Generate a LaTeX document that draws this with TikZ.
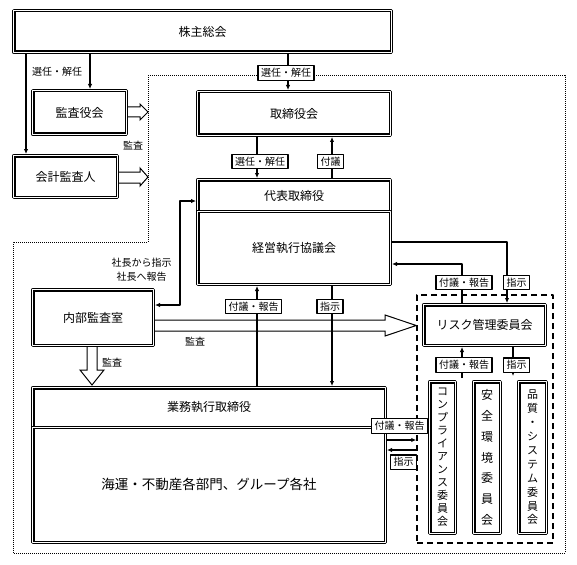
\documentclass[tikz,border=0pt]{standalone}
\usepackage{fontspec}
\setmainfont{Noto Sans CJK JP}
\usepackage{tikz}
\usetikzlibrary{arrows.meta}
\usetikzlibrary{positioning}

\tikzset{
  dbox/.style={draw, double, line width=1.1pt, double distance=1.3pt, outer sep=1.75pt, inner sep=0pt, font=\fontsize{12}{14}\selectfont},
  lbl/.style={draw, line width=1.2pt, fill=white, inner xsep=3pt, inner ysep=2.5pt, font=\fontsize{10}{12}\selectfont},
  txt/.style={inner sep=0pt, font=\fontsize{10}{12}\selectfont},
  arr/.style={line width=1.1pt, -{Latex[length=5pt, width=4.5pt]}},
  arrb/.style={line width=1.1pt, {Latex[length=5pt, width=4.5pt]}-{Latex[length=5pt, width=4.5pt]}},
  hollow/.style={draw, line width=1pt, fill=white, line join=miter},
  dotline/.style={line width=1pt, dash pattern=on 1pt off 1pt},
  dashbox/.style={draw, line width=1.5pt, dash pattern=on 6pt off 4pt}
}

\begin{document}
\begin{tikzpicture}[line cap=butt,line join=round,x=1pt,y=-1pt]
\useasboundingbox (0,0) rectangle (577,564);
% grenze
\draw[dotline] (148,76) -- (565,76) -- (565,553) -- (13,553) -- (13,242) -- (148,242) -- cycle;

% boxes
\node[dbox, minimum width=377.5pt, minimum height=41.5pt] (gm) at (202.5,31.5) {株主総会};
\node[dbox, minimum width=93.5pt, minimum height=43.5pt] (kansa) at (79.5,112.5) {監査役会};
\node[dbox, minimum width=103.5pt, minimum height=41.5pt] (kaikei) at (65.5,176.5) {会計監査人};
\node[dbox, minimum width=192.5pt, minimum height=43.5pt] (board) at (294,113.5) {取締役会};
\node[dbox, minimum width=192.5pt, minimum height=31.5pt] (ceo) at (294,195.5) {代表取締役};
\node[dbox, minimum width=192.5pt, minimum height=73pt] (exec) at (294,247.75) {経営執行協議会};
\node[dbox, minimum width=120.5pt, minimum height=55.5pt] (naibu) at (93,317.5) {内部監査室};
\node[dbox, minimum width=352.5pt, minimum height=39.5pt] (gyomu) at (209,407.5) {業務執行取締役};
\node[dbox, minimum width=352.5pt, minimum height=115pt, font=\fontsize{13.5}{15}\selectfont] (kaiun) at (209,484.75) {海運・不動産各部門、グループ各社};
\node[dashbox, minimum width=136pt, minimum height=248pt] (cmte) at (485,419) {};
\node[dbox, minimum width=121.5pt, minimum height=40.5pt] (risk) at (484.5,325) {リスク管理委員会};
\node[dbox, minimum width=25.5pt, minimum height=151.5pt, align=center, font=\fontsize{11}{13}\selectfont] (comp) at (442.5,457.5) {コ\\ン\\プ\\ラ\\イ\\ア\\ン\\ス\\委\\員\\会};
\node[dbox, minimum width=26.5pt, minimum height=151.5pt, align=center, font=\fontsize{12}{20.8}\selectfont] (safe) at (487,457.5) {安\\全\\環\\境\\委\\員\\会};
\node[dbox, minimum width=27.5pt, minimum height=151.5pt, align=center, font=\fontsize{11}{13.9}\selectfont] (qual) at (532.5,457.5) {品\\質\\・\\シ\\ス\\テ\\ム\\委\\員\\会};

% hohle pfeile
\draw[hollow] (kansa.east |- 0,107) -- (140,107) -- (140,104) -- (148,112) -- (140,120) -- (140,117) -- (kansa.east |- 0,117);
\draw[hollow] (kaikei.east |- 0,172) -- (140,172) -- (140,168) -- (148,177) -- (140,186) -- (140,183) -- (kaikei.east |- 0,183);
\draw[hollow] (87,0 |- naibu.south) -- (87,370) -- (80,370) -- (92,385) -- (104,370) -- (97,370) -- (97,0 |- naibu.south);
\draw[hollow] (naibu.east |- 0,320) -- (385,320) -- (385,315) -- (cmte.west |- 0,325.5) -- (385,336) -- (385,331) -- (naibu.east |- 0,331);

% verbindungen
\draw[arr] (26,0 |- gm.south) -- (26,0 |- kaikei.north);
\draw[arr] (90,0 |- gm.south) -- (90,0 |- kansa.north);
\draw[arr] (288,0 |- gm.south) -- (288,0 |- board.north);
\draw[arr] (257,0 |- board.south) -- (257,0 |- ceo.north);
\draw[arr] (332,0 |- ceo.north) -- (332,0 |- board.south);
\draw[arrb] (naibu.east |- 0,305) -- (180,305) -- (180,201) -- (ceo.west |- 0,201);
\draw[arr] (257,0 |- gyomu.north) -- (257,0 |- exec.south);
\draw[arr] (332,0 |- exec.south) -- (332,0 |- gyomu.north);
\draw[arr] (exec.east |- 0,242) -- (507,242) -- (507,0 |- risk.north);
\draw[arr] (462,0 |- risk.north) -- (462,264) -- (exec.east |- 0,264);
\coordinate (up1) at (462,378);
\coordinate (dn1) at (513,376);
\draw[arr] (up1) -- (up1 |- risk.south);
\draw[arr] (dn1 |- risk.south) -- (dn1);
\draw[arr] (kaiun.east |- 0,440) -- (cmte.west |- 0,440);
\draw[arr] (cmte.west |- 0,450) -- (kaiun.east |- 0,450);

% beschriftung
\node[txt] (t1) at (57,72) {選任・解任};
\node[lbl] (t2) at (286,73) {選任・解任};
\node[lbl] (t3) at (260,161.5) {選任・解任};
\node[lbl] (t4) at (330.5,161.5) {付議};
\node[txt] (t5) at (133,146) {監査};
\node[txt, align=center, font=\fontsize{10}{14}\selectfont] (t6) at (141.5,270) {社長から指示\\社長へ報告};
\node[lbl] (t7) at (253.5,306.5) {付議・報告};
\node[lbl] (t8) at (330,306.5) {指示};
\node[txt] (t9) at (195,342) {監査};
\node[txt] (t10) at (112,363) {監査};
\node[lbl] (t11) at (464,282.5) {付議・報告};
\node[lbl] (t12) at (516.5,282.5) {指示};
\node[lbl] (t13) at (464,365) {付議・報告};
\node[lbl] (t14) at (516.5,365) {指示};
\node[lbl] (t15) at (399.5,426) {付議・報告};
\node[lbl] (t16) at (403.5,462) {指示};
\end{tikzpicture}
\end{document}
